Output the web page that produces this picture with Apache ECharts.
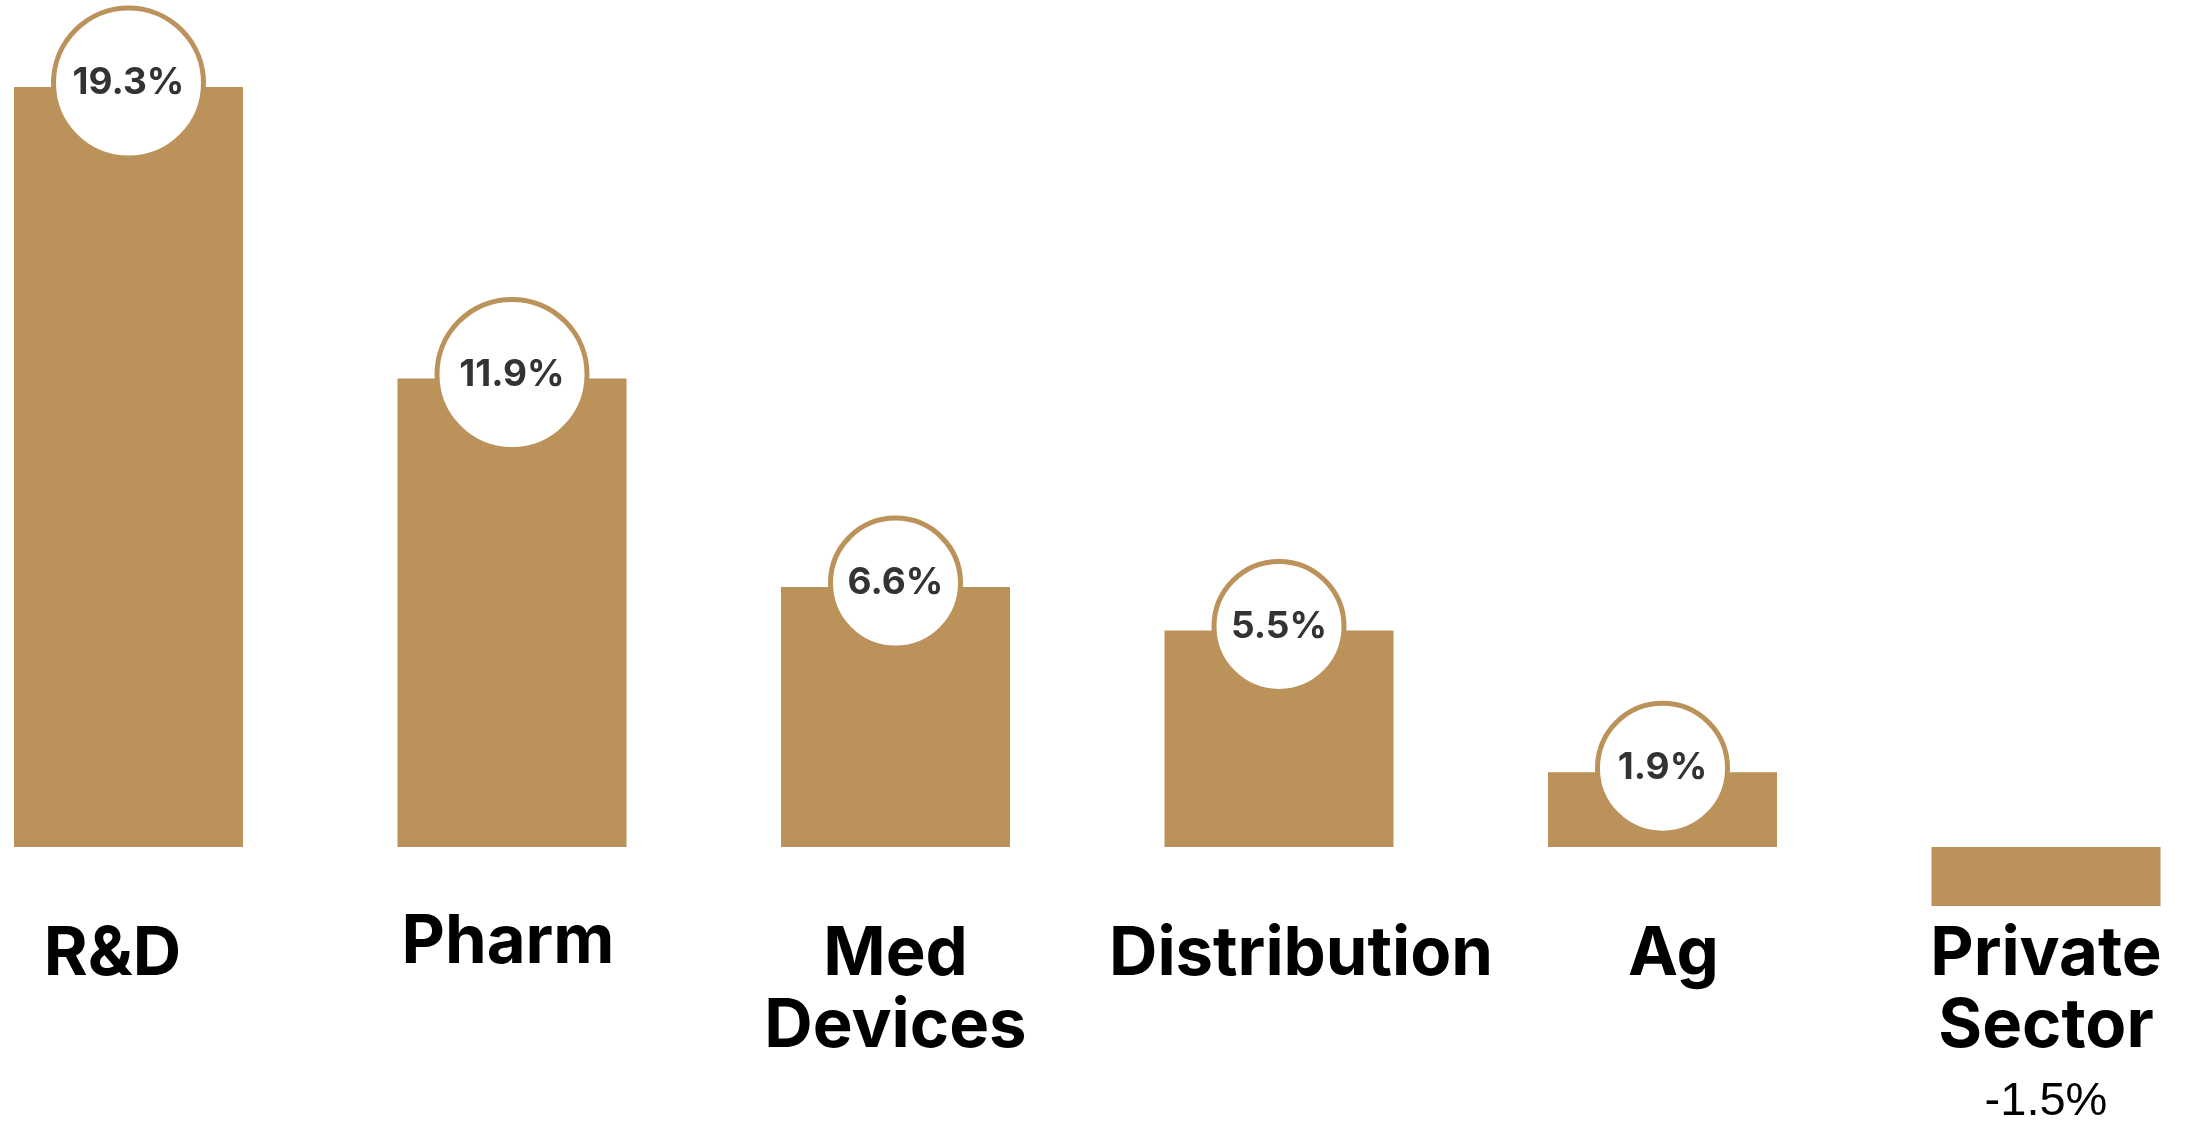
<!DOCTYPE html>
<html>
<head>
<meta charset="utf-8">
<script src="https://cdn.jsdelivr.net/npm/echarts@6/dist/echarts.min.js"></script>
<style>
html,body{margin:0;padding:0;background:#fff;}
#chart{width:2198px;height:1125px;}
</style>
</head>
<body>
<div id="chart"></div>
<script>
const categories = ['R&D', 'Pharm', 'Med\nDevices', 'Distribution', 'Ag', 'Private\nSector'];
const growth = [19.3, 11.9, 6.6, 5.5, 1.9, -1.5];

const GOLD = '#BB925A';
const chart = echarts.init(document.getElementById('chart'));

// small per-label nudges to mirror the original layout
const labelPad = [[12,32,0,0],[0,8,0,0],[12,0,0,0],[12,0,0,44],[12,0,0,22],[12,0,0,0]];

const xData = categories.map((c, i) => ({
  value: c,
  textStyle: { padding: labelPad[i] }
}));

chart.setOption({
  animation: false,
  backgroundColor: '#ffffff',
  grid: { left: 128.5, right: 152, top: 59.4, bottom: 81.1, containLabel: false, outerBoundsMode: 'none' },
  xAxis: {
    type: 'category',
    data: xData,
    boundaryGap: false,
    axisLine: { show: false },
    axisTick: { show: false },
    splitLine: { show: false },
    axisLabel: {
      interval: 0,
      margin: -137,
      color: '#000',
      fontFamily: 'Inter',
      fontWeight: 'bold',
      fontSize: 67,
      lineHeight: 76,
      formatter: function (val, idx) {
        const lines = val.split('\n').map(s => '{a|' + s + '}');
        const v = growth[idx];
        if (v < 0) lines.push('{v|' + v + '%}');
        return lines.join('\n');
      },
      rich: {
        a: { fontFamily: 'Inter', fontWeight: 'bold', fontSize: 67, lineHeight: 72, color: '#000' },
        v: { fontFamily: 'Liberation Sans', fontWeight: 'normal', fontSize: 47, lineHeight: 78, color: '#000', verticalAlign: 'middle' }
      }
    }
  },
  yAxis: {
    type: 'value',
    min: -5,
    max: 20,
    show: false,
    splitLine: { show: false }
  },
  series: [
    {
      type: 'bar',
      data: growth,
      barWidth: 229,
      itemStyle: { color: GOLD },
      z: 2
    },
    {
      type: 'scatter',
      data: growth.map(v => (v > 0 ? v : '-')),
      symbol: 'circle',
      symbolSize: function (v) { return v >= 10 ? 150 : 130; },
      symbolOffset: [0, -4],
      itemStyle: { color: '#ffffff', borderColor: GOLD, borderWidth: 5, opacity: 1 },
      label: {
        show: true,
        position: 'inside',
        formatter: p => p.value + '%',
        color: '#333333',
        fontFamily: 'Inter',
        fontWeight: 'bold',
        fontSize: 37
      },
      emphasis: { disabled: true },
      z: 5
    }
  ]
});
</script>
</body>
</html>
